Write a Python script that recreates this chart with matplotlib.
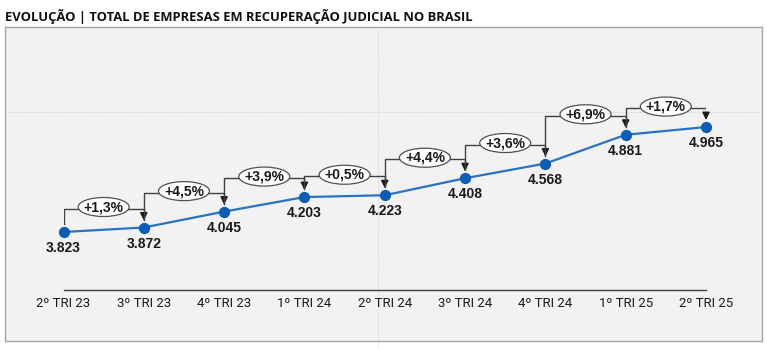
import matplotlib
matplotlib.use("Agg")
import matplotlib.pyplot as plt
from matplotlib.patches import Ellipse, Rectangle
from matplotlib.lines import Line2D

quarters = ["2º TRI 23", "3º TRI 23", "4º TRI 23", "1º TRI 24", "2º TRI 24",
            "3º TRI 24", "4º TRI 24", "1º TRI 25", "2º TRI 25"]
companies = [3823, 3872, 4045, 4203, 4223, 4408, 4568, 4881, 4965]
growth_pct = [1.3, 4.5, 3.9, 0.5, 4.4, 3.6, 6.9, 1.7]

W, H = 767, 349
fig = plt.figure(figsize=(W / 100, H / 100), dpi=100)
fig.patch.set_facecolor("white")

# light panel behind the chart
panel = Rectangle((5 / W, 1 - 341 / H), 757 / W, 314 / H, transform=fig.transFigure,
                  facecolor="#f2f2f2", edgecolor="#a6a6a6", linewidth=1.0, zorder=-2)
fig.add_artist(panel)

# faint guide lines
fig.add_artist(Line2D([378 / W, 378 / W], [0, 1 - 27 / H], transform=fig.transFigure,
                      color="#d0d0d0", lw=0.6, ls=(0, (1, 1)), zorder=-1))
fig.add_artist(Line2D([6 / W, 761 / W], [1 - 112 / H, 1 - 112 / H], transform=fig.transFigure,
                      color="#d0d0d0", lw=0.6, ls=(0, (1, 1)), zorder=-1))

fig.text(5 / W, 1 - 16 / H, "EVOLUÇÃO | TOTAL DE EMPRESAS EM RECUPERAÇÃO JUDICIAL NO BRASIL",
         fontsize=9.35, fontweight="bold", family=["Open Sans", "DejaVu Sans"],
         color="#111111", va="center", ha="left")

y_lo, y_hi = 3192, 5912
ax_left, ax_right, ax_bot, ax_top = 63.5, 706, 290, 40
ax = fig.add_axes([ax_left / W, 1 - ax_bot / H, (ax_right - ax_left) / W, (ax_bot - ax_top) / H])
ax.set_facecolor("none")
ax.set_zorder(1)
ax.set_xlim(0, 8)
ax.set_ylim(y_lo, y_hi)

# data units per pixel, for placing annotations
ux = 8 / (ax_right - ax_left)
uy = (y_hi - y_lo) / (ax_bot - ax_top)

x = list(range(len(companies)))
ax.plot(x, companies, color="#2a72c4", lw=1.6, zorder=3, clip_on=False)
ax.scatter(x, companies, s=50, color="#0b5cb5", zorder=4, clip_on=False)

for xi, v in zip(x, companies):
    ax.text(xi, v - 16 * uy, f"{v:,}".replace(",", "."), ha="center", va="center",
            fontsize=10, fontweight="bold", family=["Liberation Sans", "DejaVu Sans"],
            color="#1a1a1a")

line_col = "#404040"
for i, p in enumerate(growth_pct):
    v0, v1 = companies[i], companies[i + 1]
    top = max(v0, v1) + 19 * uy
    start = v0 + 8 * uy
    end = v1 + 7 * uy
    ax.plot([i, i, i + 1, i + 1], [start, top, top, end + 3 * uy],
            color=line_col, lw=1.0, zorder=2, solid_joinstyle="miter")
    ax.annotate("", xy=(i + 1, end), xytext=(i + 1, end + 5 * uy),
                arrowprops=dict(arrowstyle="-|>,head_length=0.45,head_width=0.22",
                                color="#1a1a1a", lw=1.0, shrinkA=0, shrinkB=0), zorder=2)
    ax.add_patch(Ellipse((i + 0.5, top + 1.5 * uy), 51 * ux, 19 * uy, facecolor="white",
                         edgecolor="#505050", lw=0.9, zorder=5))
    ax.text(i + 0.5, top + 1.5 * uy, f"+{p:.1f}%".replace(".", ","), ha="center", va="center",
            fontsize=10, fontweight="bold", family=["Liberation Sans", "DejaVu Sans"],
            color="#1a1a1a", zorder=6)

for s in ["top", "right", "left"]:
    ax.spines[s].set_visible(False)
ax.spines["bottom"].set_color("#404040")
ax.spines["bottom"].set_linewidth(1.0)
ax.set_yticks([])
ax.set_xticks(x)
ax.set_xticklabels(quarters, fontsize=9.5, family=["Roboto", "DejaVu Sans"],
                   color="#1a1a1a")
ax.tick_params(axis="x", length=0, pad=5)

fig.savefig("out.png", dpi=100, facecolor="white")
